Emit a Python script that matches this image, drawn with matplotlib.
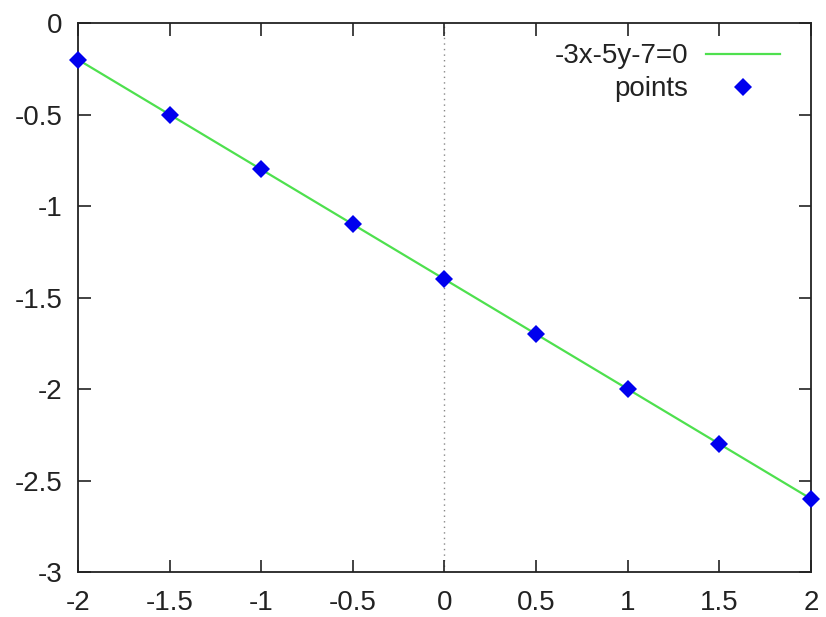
import matplotlib
matplotlib.use("Agg")
import matplotlib.pyplot as plt

# line -3x-5y-7=0 drawn between the plot edges
line_x = [-2.0, 2.0]
line_y = [-0.2, -2.6]

# sampled points
pts_x = [-2.0, -1.5, -1.0, -0.5, 0.0, 0.5, 1.0, 1.5, 2.0]
pts_y = [-0.2, -0.5, -0.8, -1.1, -1.4, -1.7, -2.0, -2.3, -2.6]

x_ticks = [-2, -1.5, -1, -0.5, 0, 0.5, 1, 1.5, 2]
y_ticks = [-3, -2.5, -2, -1.5, -1, -0.5, 0]

plt.rcParams['font.family'] = ['Liberation Sans', 'DejaVu Sans']
plt.rcParams['font.size'] = 20
plt.rcParams['text.color'] = '#222222'

fig = plt.figure(figsize=(8.26, 6.17), dpi=100)
ax = fig.add_axes([0.0944, 0.0729, 0.8874, 0.8898])

ax.axvline(0, color='#888888', lw=1.0, ls=(0, (1, 3)), zorder=1)
ax.plot(line_x, line_y, color='#4ee04e', lw=1.6, label='-3x-5y-7=0', zorder=2)
ax.plot(pts_x, pts_y, ls='none', marker='D', ms=9.5, mew=0,
        color='#0000ee', label='points', zorder=3, clip_on=False)

ax.set_xlim(-2, 2)
ax.set_ylim(-3, 0)
ax.set_xticks(x_ticks)
ax.set_yticks(y_ticks)
ax.set_xticklabels([f'{v:g}' for v in x_ticks])
ax.set_yticklabels([f'{v:g}' for v in y_ticks])

ax.tick_params(direction='in', length=9, width=1.2, top=True, right=True,
               colors='#222222', labelcolor='#222222')
ax.tick_params(axis='x', pad=13)
ax.tick_params(axis='y', pad=11)
for s in ax.spines.values():
    s.set_linewidth(1.3)
    s.set_color('#222222')

ax.legend(loc='upper right', frameon=False, markerfirst=False, numpoints=1,
          handlelength=2.66, handletextpad=0.65, labelspacing=0.25,
          borderpad=0, borderaxespad=0, bbox_to_anchor=(0.958, 0.963))

fig.savefig('out.png', dpi=100)
